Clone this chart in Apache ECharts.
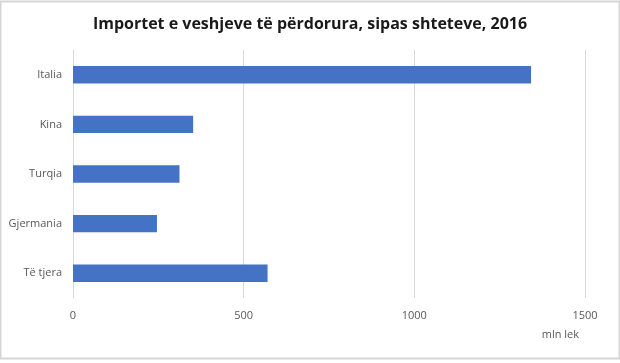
<!DOCTYPE html>
<html><head><meta charset="utf-8">
<script src="https://cdn.jsdelivr.net/npm/echarts@6/dist/echarts.min.js"></script>
<style>html,body{margin:0;padding:0;background:#fff}#c{width:620px;height:363px}</style>
</head><body><div id="c"></div>
<script>
const categories = ["Italia", "Kina", "Turqia", "Gjermania", "Të tjera"];
const values = [1342, 352, 312, 246, 570];
const xTicks = [0, 500, 1000, 1500];

const chart = echarts.init(document.getElementById('c'), null, {renderer: 'canvas'});
chart.setOption({
  animation: false,
  backgroundColor: '#fff',
  title: {
    text: 'Importet e veshjeve të përdorura, sipas shteteve, 2016',
    left: 'center', top: 11,
    textStyle: {fontFamily: 'Open Sans', fontWeight: 'bold', fontSize: 16, color: '#1a1a1a'}
  },
  graphic: [{type: 'rect', shape: {x: 0.5, y: 1.5, width: 619, height: 357}, style: {fill: 'none', stroke: '#d6d6d6', lineWidth: 2}, silent: true}],
  grid: {left: 73, right: 35, top: 50, bottom: 65, containLabel: false},
  xAxis: {
    type: 'value', min: xTicks[0], max: xTicks[xTicks.length - 1], interval: 500,
    name: 'mln lek', nameLocation: 'end', nameGap: 0,
    nameTextStyle: {fontFamily: 'Open Sans', fontSize: 11, color: '#595959', align: 'right', verticalAlign: 'top', padding: [31, 6, 0, 0]},
    axisLine: {show: false}, axisTick: {show: false},
    axisLabel: {fontFamily: 'Open Sans', fontSize: 11, color: '#595959', margin: 12, formatter: v => String(v)},
    splitLine: {lineStyle: {color: '#d9d9d9', width: 1}}
  },
  yAxis: {
    type: 'category', data: categories, inverse: true,
    axisLine: {show: true, lineStyle: {color: '#d9d9d9'}}, axisTick: {show: false},
    axisLabel: {fontFamily: 'Open Sans', fontSize: 11, color: '#595959', margin: 11}
  },
  series: [{
    type: 'bar', data: values, barCategoryGap: '65%',
    itemStyle: {color: '#4472C4'}
  }]
});
</script></body></html>
